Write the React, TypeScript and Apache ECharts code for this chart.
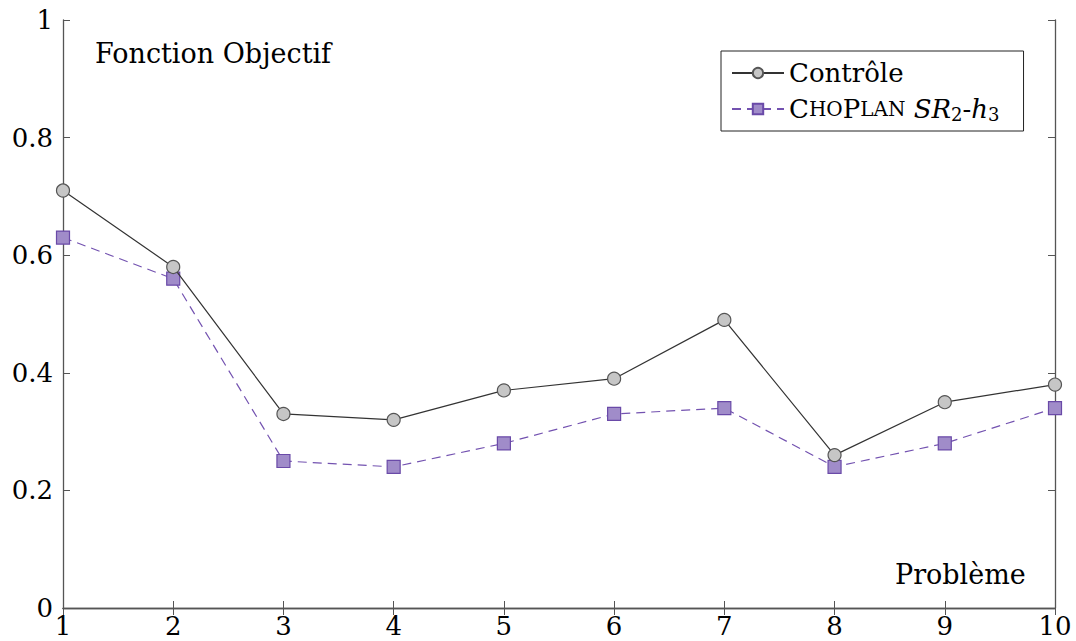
import React, { useEffect, useRef } from "react";
import * as echarts from "echarts";

const problems = [1, 2, 3, 4, 5, 6, 7, 8, 9, 10];
const controle = [0.71, 0.58, 0.33, 0.32, 0.37, 0.39, 0.49, 0.26, 0.35, 0.38];
const choplan = [0.63, 0.56, 0.25, 0.24, 0.28, 0.33, 0.34, 0.24, 0.28, 0.34];
const seriesNames = ["Contrôle", "ChoPlan SR2-h3"];
const titleText = "Fonction Objectif";
const xName = "Problème";

const FONT = "DejaVu Serif";
const AXIS = "#555";

export default function App() {
  const ref = useRef<HTMLDivElement>(null);
  useEffect(() => {
    const chart = echarts.init(ref.current!, null, { renderer: "svg" });
    const tickStyle = { show: true, inside: true, length: 7, lineStyle: { color: AXIS, width: 1 } };
    const axisLine = { show: true, lineStyle: { color: AXIS, width: 1.3 } };
    chart.setOption({
      animation: false,
      backgroundColor: "#fff",
      grid: { left: 63, right: 21, top: 20, bottom: 33, containLabel: false },
      xAxis: [
        {
          type: "value", min: 1, max: 10, interval: 1, position: "bottom",
          axisLine, axisTick: tickStyle, splitLine: { show: false },
          axisLabel: { margin: 5, color: "#000", fontFamily: FONT, fontSize: 26 },
        },
        {
          type: "value", min: 1, max: 10, interval: 1, position: "top",
          axisLine, axisTick: tickStyle, splitLine: { show: false }, axisLabel: { show: false },
        },
      ],
      yAxis: [
        {
          type: "value", min: 0, max: 1, interval: 0.2, position: "left",
          axisLine, axisTick: tickStyle, splitLine: { show: false },
          axisLabel: { margin: 10, color: "#000", fontFamily: FONT, fontSize: 26 },
        },
        {
          type: "value", min: 0, max: 1, interval: 0.2, position: "right",
          axisLine, axisTick: tickStyle, splitLine: { show: false }, axisLabel: { show: false },
        },
      ],
      legend: {
        orient: "vertical",
        left: 721,
        top: 51,
        padding: [8, 24, 8, 10],
        itemGap: 8,
        itemWidth: 52,
        itemHeight: 13,
        borderColor: "#222",
        borderWidth: 1,
        backgroundColor: "#fff",
        data: seriesNames,
        formatter: (name: string) =>
          name === seriesNames[0]
            ? name
            : "{c|C}{s|HO}{c|P}{s|LAN} {i|SR}{sub|2}{n|-}{i|h}{sub|3}",
        textStyle: {
          fontFamily: FONT,
          fontSize: 26,
          lineHeight: 28,
          color: "#000",
          rich: {
            c: { fontFamily: FONT, fontSize: 26, color: "#000" },
            s: { fontFamily: FONT, fontSize: 20, color: "#000" },
            n: { fontFamily: FONT, fontSize: 26, color: "#000" },
            i: { fontFamily: FONT, fontSize: 26, fontStyle: "italic", color: "#000" },
            sub: { fontFamily: FONT, fontSize: 18, color: "#000", verticalAlign: "bottom", padding: [12, 0, 0, 0] },
          },
        },
      },
      series: [
        {
          name: seriesNames[0],
          type: "line",
          data: problems.map((p, i) => [p, controle[i]]),
          symbol: "circle",
          symbolSize: 13,
          lineStyle: { color: "#333", width: 1.2 },
          itemStyle: { color: "#c6c6c6", borderColor: "#555", borderWidth: 1.2 },
          z: 3,
        },
        {
          name: seriesNames[1],
          type: "line",
          data: problems.map((p, i) => [p, choplan[i]]),
          symbol: "rect",
          symbolSize: 13,
          lineStyle: { color: "#7352b0", width: 1.2, type: [9, 6] },
          itemStyle: { color: "#a08cc9", borderColor: "#6a4aa8", borderWidth: 1.2 },
          z: 2,
        },
      ],
      graphic: [
        {
          type: "text",
          left: 95,
          top: 40,
          style: { text: titleText, fontFamily: FONT, fontSize: 27, fill: "#000" },
        },
        {
          type: "text",
          left: 895,
          top: 561,
          style: { text: xName, fontFamily: FONT, fontSize: 27, fill: "#000" },
        },
      ],
    });
    return () => chart.dispose();
  }, []);
  return <div ref={ref} style={{ width: 1076, height: 641, position: "absolute", left: 0, top: 0 }} />;
}
